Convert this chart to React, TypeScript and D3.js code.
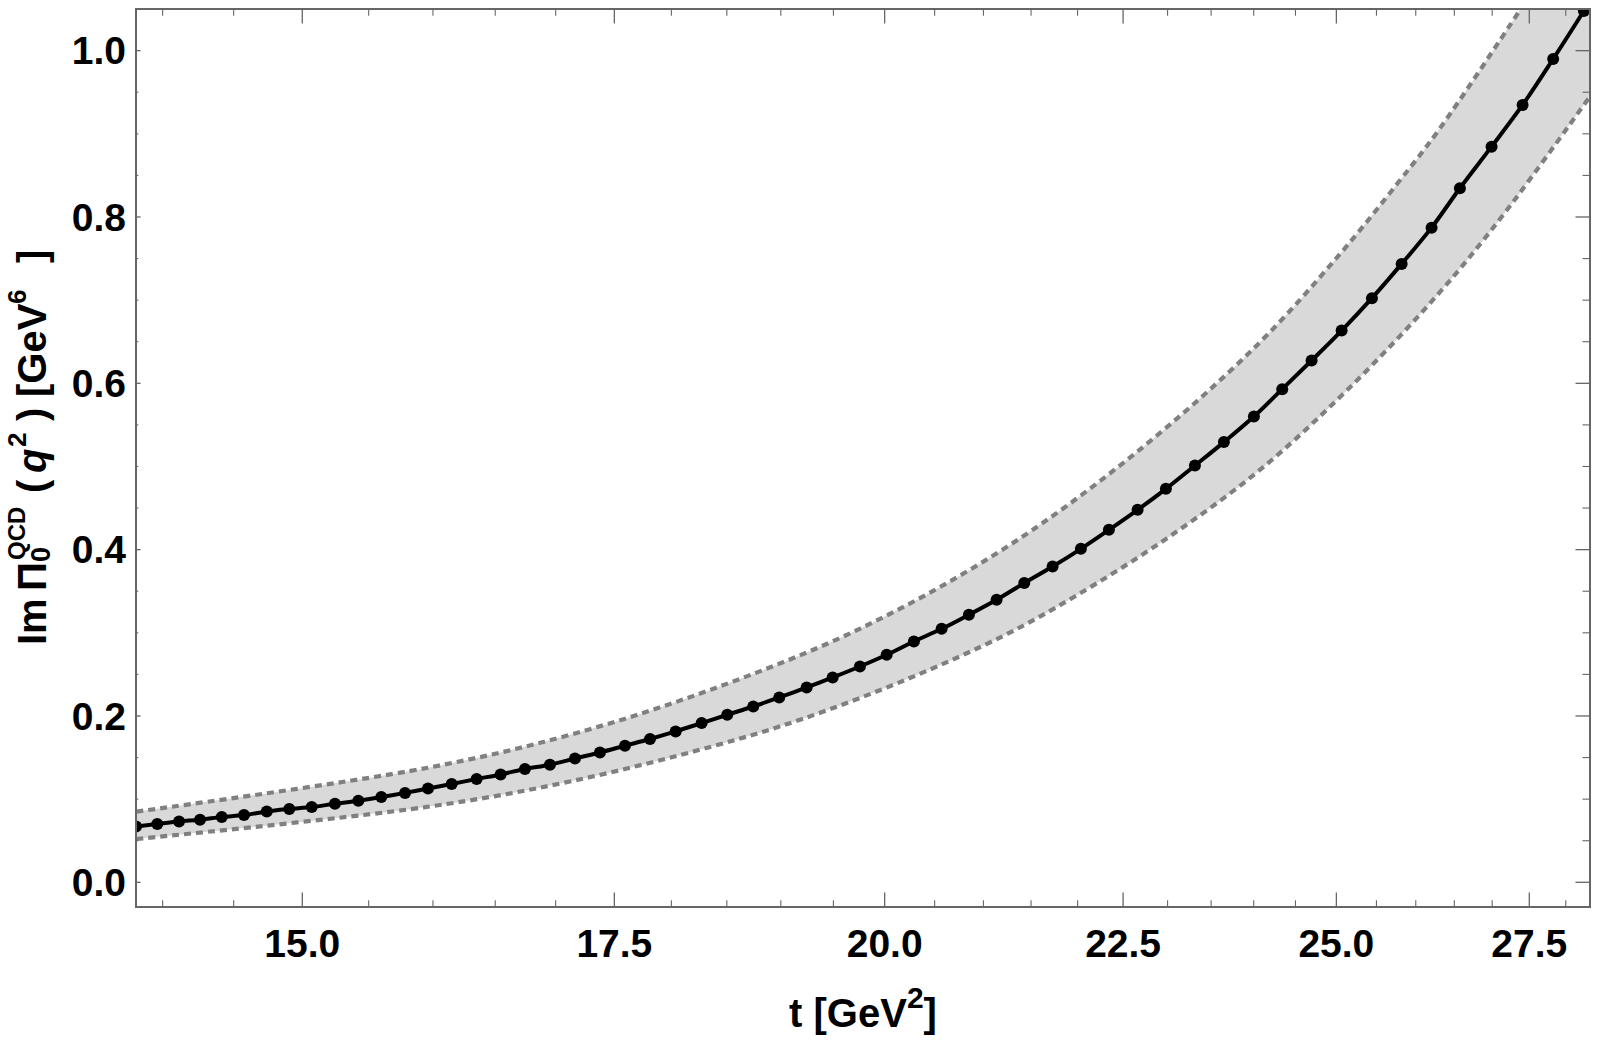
import React from "react";
import * as d3 from "d3";

// ---- data ----
const tPoints = [13.817, 13.963, 14.114, 14.261, 14.415, 14.574, 14.739, 14.904, 15.070, 15.244, 15.421, 15.597, 15.781, 15.961, 16.149, 16.349, 16.544, 16.744, 16.952, 17.163, 17.376, 17.592, 17.811, 18.038, 18.271, 18.504, 18.743, 18.985, 19.244, 19.493, 19.757, 20.020, 20.291, 20.571, 20.850, 21.137, 21.428, 21.730, 22.036, 22.343, 22.662, 22.981, 23.313, 23.649, 24.002, 24.340, 24.696, 25.065, 25.443, 25.819, 26.204, 26.573, 26.992, 27.409, 27.826, 28.251];
const imPoints = [0.0672, 0.0701, 0.0732, 0.0753, 0.0785, 0.0809, 0.0852, 0.0881, 0.0905, 0.0945, 0.0981, 0.1025, 0.1075, 0.1128, 0.1182, 0.1242, 0.1297, 0.1362, 0.1414, 0.1489, 0.1561, 0.1642, 0.1723, 0.1814, 0.1915, 0.2015, 0.2114, 0.2223, 0.2343, 0.2463, 0.2595, 0.2736, 0.2896, 0.3048, 0.3217, 0.3397, 0.3598, 0.3797, 0.4010, 0.4238, 0.4479, 0.4731, 0.5011, 0.5293, 0.5600, 0.5930, 0.6274, 0.6634, 0.7024, 0.7436, 0.7872, 0.8346, 0.8846, 0.9347, 0.9900, 1.0477];

const upperT = [13.82, 15.95, 17.12, 18.36, 19.76, 21.21, 22.62, 24.03, 25.04, 25.78, 26.30, 27.36, 27.60];
const upperV = [0.0850, 0.1375, 0.1773, 0.2319, 0.3051, 0.4008, 0.5145, 0.645, 0.755, 0.842, 0.905, 1.047, 1.080];

const lowerT = [13.82, 15.95, 17.12, 18.38, 19.21, 20.25, 21.21, 21.96, 22.99, 24.07, 25.17, 26.30, 27.18, 28.34];
const lowerV = [0.0521, 0.0906, 0.1212, 0.1639, 0.1967, 0.2456, 0.2965, 0.3431, 0.4135, 0.4956, 0.5954, 0.7084, 0.8063, 0.9455];

const xMajorTicks = [15, 17.5, 20, 22.5, 25, 27.5];
const yMajorTicks = [0, 0.2, 0.4, 0.6, 0.8, 1.0];
const xDomain = [13.817, 28.337];
const yDomain = [-0.0297, 1.0501];

const W = 1600;
const H = 1042;
const L = 136, R = 1590, T = 9, B = 907;

const FONT = "'Liberation Sans', Arial, Helvetica, sans-serif";

export default function App() {
  const x = d3.scaleLog().domain(xDomain).range([L, R]);
  const y = d3.scaleLinear().domain(yDomain).range([B, T]);

  const pts = tPoints.map((t, i) => [t, imPoints[i]] as [number, number]);
  const up = upperT.map((t, i) => [t, upperV[i]] as [number, number]);
  const lo = lowerT.map((t, i) => [t, lowerV[i]] as [number, number]);

  const line = d3
    .line<[number, number]>()
    .x((d) => x(d[0]))
    .y((d) => y(d[1]))
    .curve(d3.curveCatmullRom.alpha(0.5));

  const upPath = line(up) || "";
  const loPath = line(lo) || "";
  const loRev = (line(lo.slice().reverse()) || "").replace(/^M/, "L");
  const fillPath = `${upPath}L${x.range()[1]},${y.range()[1] - 40}${loRev}Z`;

  const xMinor: number[] = [];
  for (let v = 14; v <= 28.0001; v += 0.5) {
    if (!xMajorTicks.some((m) => Math.abs(m - v) < 1e-6)) xMinor.push(+v.toFixed(2));
  }
  const yMinor: number[] = [];
  for (let v = 0.05; v <= 1.0001; v += 0.05) {
    if (!yMajorTicks.some((m) => Math.abs(m - v) < 1e-6)) yMinor.push(+v.toFixed(2));
  }

  const frameColor = "#666666";

  return (
    <svg
      width={W}
      height={H}
      style={{ position: "absolute", left: 0, top: 0, background: "#fff" }}
      fontFamily={FONT}
    >
      <defs>
        <clipPath id="plotClip">
          <rect x={L} y={T} width={R - L} height={B - T} />
        </clipPath>
      </defs>

      <g clipPath="url(#plotClip)">
        <path d={fillPath} fill="#d9d9d9" stroke="none" />
        <path d={upPath} fill="none" stroke="#808080" strokeWidth={4.2} strokeDasharray="7 5" />
        <path d={loPath} fill="none" stroke="#808080" strokeWidth={4.2} strokeDasharray="7 5" />
        <path d={line(pts) || ""} fill="none" stroke="#000" strokeWidth={4} />
        {pts.map((d, i) => (
          <circle key={i} cx={x(d[0])} cy={y(d[1])} r={6} fill="#000" />
        ))}
      </g>

      <rect x={L} y={T} width={R - L} height={B - T} fill="none" stroke={frameColor} strokeWidth={2} />

      {xMajorTicks.map((v) => (
        <g key={"xM" + v}>
          <line x1={x(v)} x2={x(v)} y1={B} y2={B - 14.5} stroke={frameColor} strokeWidth={1.3} />
          <line x1={x(v)} x2={x(v)} y1={T} y2={T + 14.5} stroke={frameColor} strokeWidth={1.3} />
          <text x={x(v)} y={957} textAnchor="middle" fontSize={39} fontWeight="bold" fill="#000">
            {v.toFixed(1)}
          </text>
        </g>
      ))}
      {xMinor.map((v) => (
        <g key={"xm" + v}>
          <line x1={x(v)} x2={x(v)} y1={B} y2={B - 6.7} stroke={frameColor} strokeWidth={1.1} />
          <line x1={x(v)} x2={x(v)} y1={T} y2={T + 6.7} stroke={frameColor} strokeWidth={1.1} />
        </g>
      ))}

      {yMajorTicks.map((v) => (
        <g key={"yM" + v}>
          <line x1={L} x2={L + 4.5} y1={y(v)} y2={y(v)} stroke={frameColor} strokeWidth={1.3} />
          <line x1={R} x2={R - 14.5} y1={y(v)} y2={y(v)} stroke={frameColor} strokeWidth={1.3} />
          <text x={126} y={y(v)} dy="0.35em" textAnchor="end" fontSize={39} fontWeight="bold" fill="#000">
            {v.toFixed(1)}
          </text>
        </g>
      ))}
      {yMinor.map((v) => (
        <g key={"ym" + v}>
          <line x1={L} x2={L + 2.3} y1={y(v)} y2={y(v)} stroke={frameColor} strokeWidth={1.1} />
          <line x1={R} x2={R - 7.5} y1={y(v)} y2={y(v)} stroke={frameColor} strokeWidth={1.1} />
        </g>
      ))}

      <text x={(L + R) / 2} y={1027} textAnchor="middle" fontSize={40} fontWeight="bold" fill="#000">
        <tspan>t [GeV</tspan>
        <tspan dy={-19} fontSize={30}>2</tspan>
        <tspan dy={19}>]</tspan>
      </text>

      <g transform="translate(46,643) rotate(-90)">
        <text fontSize={40} fontWeight="bold" fill="#000">
          <tspan x={-2} y={0}>Im</tspan>
          <tspan x={52} y={0}>Π</tspan>
          <tspan x={81} y={4} fontSize={27}>0</tspan>
          <tspan x={83} y={-21} fontSize={24}>QCD</tspan>
          <tspan x={150} y={0}>(</tspan>
          <tspan x={170} y={0} fontStyle="italic">q</tspan>
          <tspan x={196} y={-20} fontSize={26}>2</tspan>
          <tspan x={222} y={0}>)</tspan>
          <tspan x={246} y={0}>[GeV</tspan>
          <tspan x={339} y={-20} fontSize={26}>6</tspan>
          <tspan x={380} y={0}>]</tspan>
        </text>
      </g>
    </svg>
  );
}
